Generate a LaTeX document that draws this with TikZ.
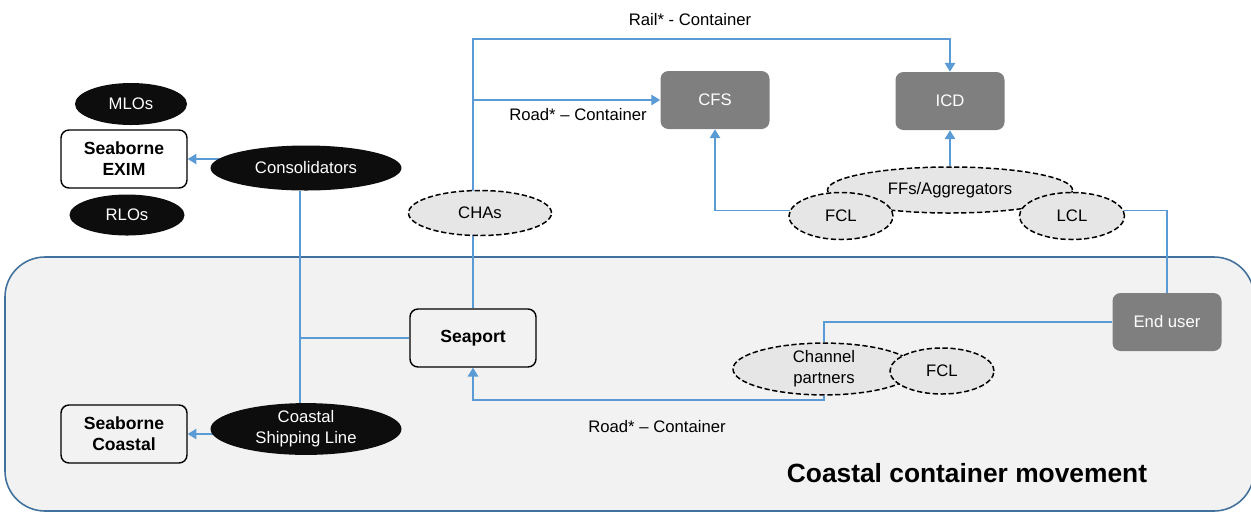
\documentclass[tikz,border=0pt]{standalone}
\usepackage{fontspec}
\setmainfont{Liberation Sans}
\usetikzlibrary{shapes.geometric,arrows.meta,backgrounds}

\newlength{\du}
\setlength{\du}{0.02cm}

\definecolor{linkcolor}{rgb}{0.356863, 0.607843, 0.835294}
\definecolor{framecolor}{rgb}{0.254902, 0.443137, 0.611765}
\definecolor{panelcolor}{rgb}{0.949020, 0.949020, 0.949020}
\definecolor{boxcolor}{rgb}{0.498039, 0.498039, 0.498039}
\definecolor{ovalcolor}{rgb}{0.901961, 0.901961, 0.901961}
\definecolor{darkovalcolor}{rgb}{0.050980, 0.050980, 0.050980}

\tikzset{
  darkoval/.style={ellipse, fill=darkovalcolor, text=white, inner sep=0pt, align=center},
  dashoval/.style={ellipse, draw=black, fill=ovalcolor, dash pattern=on 3pt off 1.5pt, line width=0.85pt, inner sep=0pt, align=center},
  whitebox/.style={rectangle, rounded corners=8\du, draw=black, line width=0.8pt, font=\bfseries, align=center, minimum width=126\du, minimum height=58\du},
  graybox/.style={rectangle, rounded corners=8\du, fill=boxcolor, text=white, minimum width=109\du, minimum height=58\du},
  link/.style={draw=linkcolor, line width=0.6pt},
  linkarrow/.style={link, -{Triangle[length=5pt,width=6pt]}}
}

\begin{document}
\begin{tikzpicture}[font=\fontsize{9.5}{12}\selectfont]
\useasboundingbox (0\du,0\du) rectangle (1251\du,-512\du);

% seaborne side
\node[darkoval, minimum width=112\du, minimum height=42\du] (mlo) at (131\du,-104\du) {MLOs};
\node[whitebox, fill=white] (exim) at (124\du,-159\du) {Seaborne\\EXIM};
\node[darkoval, minimum width=115\du, minimum height=41\du] (rlo) at (127\du,-215\du) {RLOs};
\node[darkoval, minimum width=191\du, minimum height=45\du] (consolidator) at (306\du,-168\du) {Consolidators};
\node[dashoval, minimum width=143\du, minimum height=45\du] (cha) at (480\du,-213\du) {CHAs};

% hinterland
\node[graybox] (cfs) at (715\du,-100\du) {CFS};
\node[graybox] (icd) at (950\du,-101\du) {ICD};
\node[dashoval, minimum width=245\du, minimum height=46\du] (aggregator) at (950\du,-190\du) {FFs/Aggregators};
\node[dashoval, minimum width=104\du, minimum height=47\du] (fclup) at (841\du,-216\du) {FCL};
\node[dashoval, minimum width=105\du, minimum height=47\du] (lcl) at (1072\du,-216\du) {LCL};

% coastal panel
\node[whitebox] (seaport) at (473\du,-338\du) {Seaport};
\node[graybox] (enduser) at (1167\du,-322\du) {End user};
\node[dashoval, minimum width=182\du, minimum height=45\du] (channel) at (824\du,-369\du) {Channel\\partners};
\node[dashoval, minimum width=104\du, minimum height=46\du] (fcldown) at (942\du,-371\du) {FCL};
\node[darkoval, minimum width=191\du, minimum height=45\du] (coastal) at (306\du,-429\du) {Coastal\\Shipping Line};
\node[whitebox] (seacoastal) at (124\du,-434\du) {Seaborne\\Coastal};

\node (raillabel) at (690\du,-20\du) {Rail* - Container};
\node (roadlabel) at (578\du,-115\du) {Road* -- Container};
\node (roadlabellow) at (657\du,-427\du) {Road* -- Container};
\node[font=\fontsize{15}{18}\selectfont\bfseries] (paneltitle) at (967\du,-473\du) {Coastal container movement};

\coordinate (railtop) at (950\du,-39\du);
\coordinate (split) at (300\du,-338\du);
\coordinate (roadturn) at (824\du,-400\du);

\begin{scope}[on background layer]
\clip (0\du,0\du) rectangle (1251\du,-512\du);
\draw[draw=framecolor, fill=panelcolor, line width=0.9pt, rounded corners=40\du] (5\du,-257\du) rectangle (1254\du,-511\du);
\end{scope}

\begin{scope}[on background layer]
\draw[linkarrow] (consolidator |- exim.east) -- (exim.east);
\draw[link] (consolidator.south -| split) -- (coastal.north -| split);
\draw[link] (split) -- (seaport.west);
\draw[linkarrow] (coastal |- seacoastal.east) -- (seacoastal.east);
\draw[linkarrow] (seaport.north) |- (railtop) -- (icd.north);
\draw[linkarrow] (seaport.north |- cfs.west) -- (cfs.west);
\draw[linkarrow] (aggregator.north) -- (icd.south);
\draw[linkarrow] (fclup.174) -| (cfs.south);
\draw[link] (lcl.6) -| (enduser.north);
\draw[link] (enduser.west) -| (channel.north);
\draw[linkarrow] (channel.south) -- (roadturn) -| (seaport.south);
\end{scope}
\end{tikzpicture}
\end{document}
